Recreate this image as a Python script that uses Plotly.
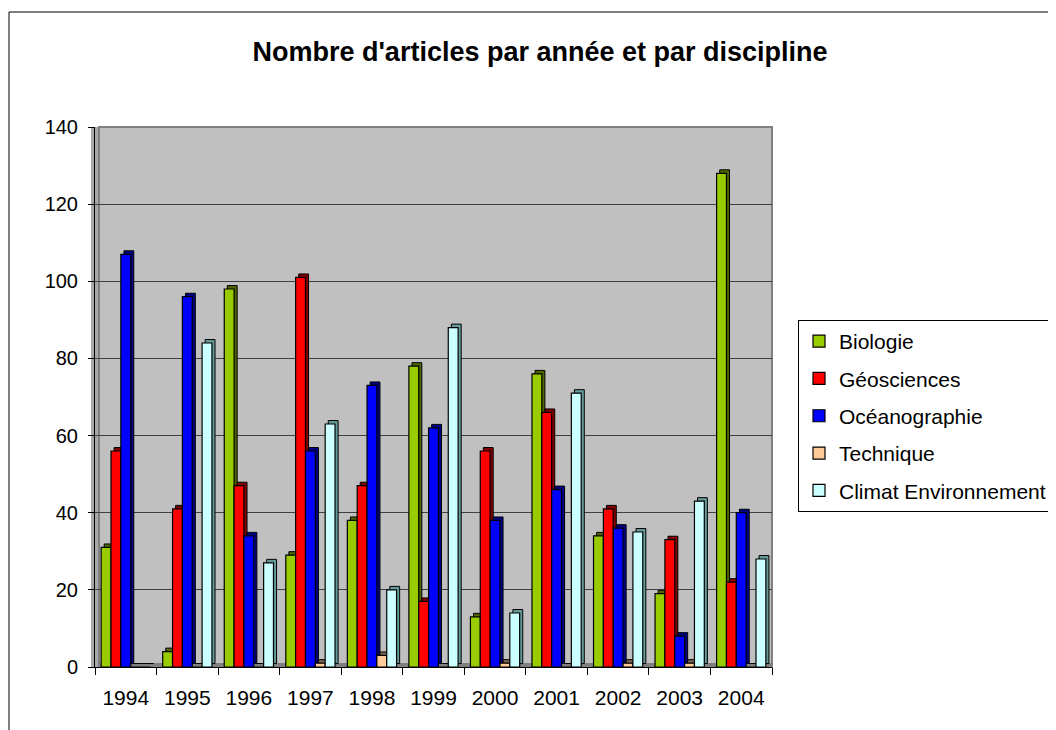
import plotly.graph_objects as go

years = ["1994", "1995", "1996", "1997", "1998", "1999", "2000", "2001", "2002", "2003", "2004"]
biologie = [31, 4, 98, 29, 38, 78, 13, 76, 34, 19, 128]
geosciences = [56, 41, 47, 101, 47, 17, 56, 66, 41, 33, 22]
oceanographie = [107, 96, 34, 56, 73, 62, 38, 46, 36, 8, 40]
technique = [0, 0, 0, 1, 3, 0, 1, 0, 1, 1, 0]
climat = [0, 84, 27, 63, 20, 88, 14, 71, 35, 43, 28]

series_names = ["Biologie", "Géosciences", "Océanographie", "Technique", "Climat Environnement"]
series_values = [biologie, geosciences, oceanographie, technique, climat]
face_colors = ["#99CC00", "#FF0000", "#0000FF", "#FFCC99", "#CCFFFF"]
side_colors = ["#4D6600", "#800000", "#000080", "#806650", "#669999"]

W, H = 1056, 730
OFF = 8  # page body margin offset
# desired plot area in window pixels: x 95..772, y 127..667
L = 95 - OFF
T = 127 - OFF
pw, ph = 677, 540
R = W - L - pw
B = H - T - ph

xs = list(range(len(years)))
bw = 0.16
fig = go.Figure()
for i, (name, vals) in enumerate(zip(series_names, series_values)):
    off = -0.4 + bw * i
    fig.add_trace(go.Bar(
        x=xs, y=vals, base=0.9, offset=off + 0.05, width=bw,
        marker=dict(color=side_colors[i], line=dict(color="black", width=1)),
        showlegend=False, hoverinfo="skip", legendgroup=name,
    ))
    fig.add_trace(go.Bar(
        x=xs, y=vals, offset=off, width=bw, name=name, legendgroup=name,
        marker=dict(color=face_colors[i], line=dict(color="black", width=1.2)),
    ))

def px_x(p):
    return (p - OFF - L) / pw

def px_y(p):
    return (T + ph - (p - OFF)) / ph

def cx(p):
    return (p - OFF) / W

def cy(p):
    return 1 - (p - OFF) / H

shapes = [
    dict(type="rect", xref="paper", yref="paper", x0=px_x(9), x1=px_x(1100),
         y0=px_y(760), y1=px_y(12), line=dict(color="black", width=1), layer="below"),
    dict(type="rect", xref="paper", yref="paper", x0=0, x1=1, y0=px_y(668), y1=px_y(663),
         fillcolor="#808080", line=dict(width=0), layer="below"),
    dict(type="rect", xref="paper", yref="paper", x0=px_x(91), x1=px_x(99), y0=0, y1=1,
         fillcolor="#A8A8A8", line=dict(width=0), layer="below"),
    dict(type="rect", xref="paper", yref="paper", x0=px_x(99), x1=1, y0=0, y1=1,
         line=dict(color="#808080", width=2), layer="below"),
]

fig.update_layout(
    width=W, height=H,
    margin=dict(l=L, r=R, t=T, b=B),
    paper_bgcolor="white",
    plot_bgcolor="#C0C0C0",
    barmode="overlay",
    font=dict(family="Liberation Sans, Arial, sans-serif", color="black", size=20),
    title=dict(text="<b>Nombre d'articles par année et par discipline</b>",
               x=cx(540), xanchor="center", y=cy(52), yanchor="middle",
               font=dict(size=27, color="black")),
    xaxis=dict(range=[-0.5, 10.5], tickvals=xs, ticktext=years, ticks="",
               showline=True, linecolor="black", linewidth=1, showgrid=False,
               zeroline=False, ticklabelstandoff=12, tickfont=dict(size=21),
               minor=dict(tick0=-0.5, dtick=1, ticks="outside", ticklen=7,
                          tickcolor="black", showgrid=False)),
    yaxis=dict(range=[0, 140], dtick=20, ticks="outside", ticklen=6, tickcolor="black",
               showline=True, linecolor="black", linewidth=1,
               showgrid=True, gridcolor="#404040", gridwidth=1, zeroline=False,
               ticklabelstandoff=6),
    legend=dict(xref="container", yref="container", x=cx(798), xanchor="left",
                y=cy(320), yanchor="top", bordercolor="black", borderwidth=1,
                bgcolor="white", font=dict(size=21), tracegroupgap=7,
                itemwidth=30, traceorder="grouped"),
    shapes=shapes,
    showlegend=True,
)

fig.write_html("out.html")
